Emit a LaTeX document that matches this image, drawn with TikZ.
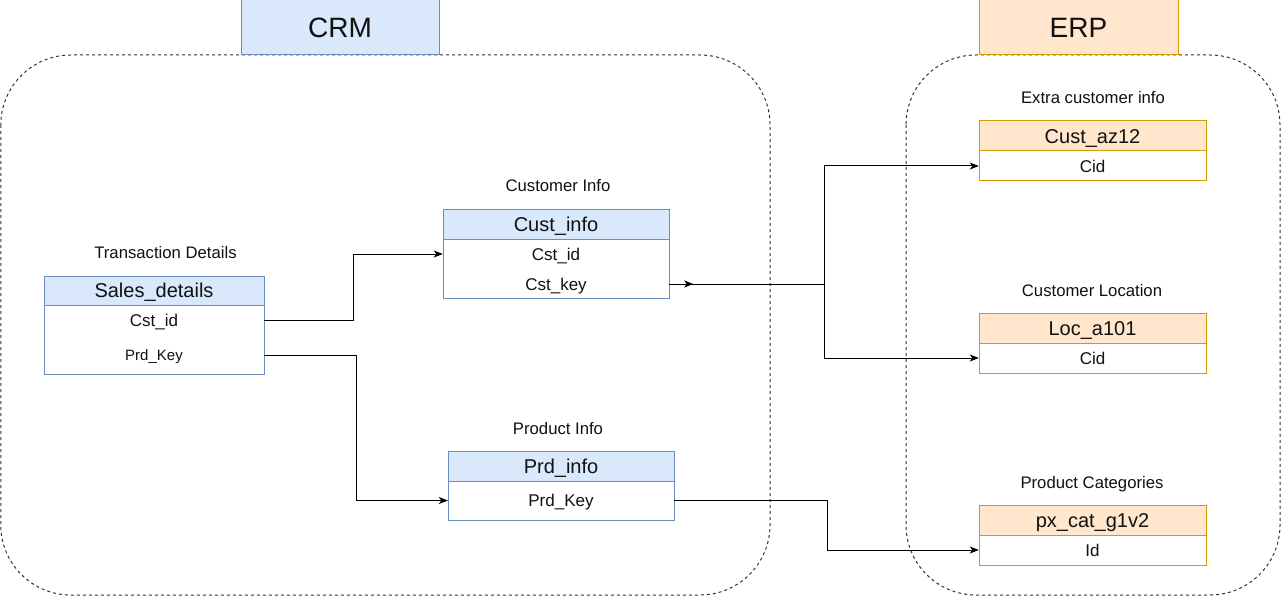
\documentclass[tikz,border=0pt]{standalone}
\usepackage{fontspec}
\setmainfont{Liberation Sans}
\usetikzlibrary{arrows.meta}
\definecolor{bluefill}{HTML}{DAE8FC}
\definecolor{blueline}{HTML}{6C8EBF}
\definecolor{orfill}{HTML}{FFE6CC}
\definecolor{orline}{HTML}{D79B00}
\definecolor{dashcol}{HTML}{333333}
\definecolor{txt}{HTML}{111111}
\newcommand{\fs}[1]{\fontsize{#1}{#1}\selectfont}
\begin{document}
\begin{tikzpicture}[x=1pt,y=-1pt,
  capfix/.style={text height=#1,text depth=0pt},
  container/.style={draw=dashcol,line width=1pt,dash pattern=on 3pt off 3pt,rounded corners=70pt},
  crmtitle/.style={draw=blueline,fill=bluefill,line width=1pt,minimum width=198pt,minimum height=55pt,inner sep=0pt,font=\fs{28},text=txt,capfix=20pt},
  erptitle/.style={draw=orline,fill=orfill,line width=1pt,minimum width=199pt,minimum height=55pt,inner sep=0pt,font=\fs{28},text=txt,capfix=20pt},
  bhead/.style={draw=blueline,fill=bluefill,line width=1pt,inner sep=0pt,font=\fs{20},text=txt,capfix=14.3pt},
  bbody/.style={draw=blueline,fill=white,line width=1pt,inner sep=0pt},
  ohead/.style={draw=orline,fill=orfill,line width=1pt,inner sep=0pt,font=\fs{20},text=txt,capfix=14.3pt},
  obody/.style={draw=orline,fill=white,line width=1pt,inner sep=0pt},
  field/.style={inner sep=0pt,font=\fs{17},text=txt,capfix=12.2pt},
  smallfield/.style={inner sep=0pt,font=\fs{15},text=txt,capfix=10.7pt},
  caption/.style={inner sep=0pt,font=\fs{16.7},text=txt,capfix=12pt},
  conn/.style={draw=black,line width=1pt},
  arr/.style={conn,-{Stealth[length=9pt,width=7pt,inset=2.5pt]}}
]
\useasboundingbox (0,0) rectangle (1281,596);
\fill[white] (0,0) rectangle (1281,596);

% containers
\draw[container] (0.8,55) rectangle (770,595);
\draw[container] (906,55) rectangle (1280,595);

% titles
\node[crmtitle] (crm) at (340,27.5) {CRM};
\node[erptitle] (erp) at (1078.5,27.5) {ERP};

% Sales_details
\node[caption] (capsd) at (165.5,252) {Transaction Details};
\node[bbody,minimum width=220pt,minimum height=69pt] (sdbody) at (154,339.5) {};
\node[bhead,minimum width=220pt,minimum height=29pt] (sdhead) at (154,290.5) {Sales\_details};
\node[field,minimum width=220pt] (sdcst) at (154,320) {Cst\_id};
\node[smallfield,minimum width=220pt] (sdprd) at (154,355) {Prd\_Key};

% Cust_info
\node[caption] (capci) at (558,186) {Customer Info};
\node[bbody,minimum width=226pt,minimum height=59pt] (cibody) at (556,268.5) {};
\node[bhead,minimum width=226pt,minimum height=30pt] (cihead) at (556,224) {Cust\_info};
\node[field,minimum width=226pt] (cicst) at (556,254) {Cst\_id};
\node[field,minimum width=226pt] (cikey) at (556,284) {Cst\_key};

% Prd_info
\node[caption] (cappi) at (558,428) {Product Info};
\node[bbody,minimum width=226pt,minimum height=39pt] (pibody) at (561,500.5) {};
\node[bhead,minimum width=226pt,minimum height=30pt] (pihead) at (561,466) {Prd\_info};
\node[field,minimum width=226pt] (piprd) at (561,500.5) {Prd\_Key};

% Cust_az12
\node[caption] (capaz) at (1093,98) {Extra customer info};
\node[obody,minimum width=227pt,minimum height=30pt] (azbody) at (1092.5,166) {};
\node[ohead,minimum width=227pt,minimum height=30pt] (azhead) at (1092.5,136) {Cust\_az12};
\node[field,minimum width=227pt] (azcid) at (1092.5,166) {Cid};

% Loc_a101
\node[caption] (caploc) at (1092,290) {Customer Location};
\node[obody,minimum width=227pt,minimum height=30pt] (locbody) at (1092.5,358) {};
\node[ohead,minimum width=227pt,minimum height=30pt] (lochead) at (1092.5,328) {Loc\_a101};
\node[field,minimum width=227pt] (loccid) at (1092.5,358) {Cid};

% px_cat_g1v2
\node[caption] (cappx) at (1092,482) {Product Categories};
\node[obody,minimum width=227pt,minimum height=30pt] (pxbody) at (1092.5,550) {};
\node[ohead,minimum width=227pt,minimum height=30pt] (pxhead) at (1092.5,520) {px\_cat\_g1v2};
\node[field,minimum width=227pt] (pxid) at (1092.5,550) {Id};

% connectors
\draw[arr] (sdcst.east) -- ++(89,0) |- (cicst.west);
\draw[arr] (sdprd.east) -- ++(92,0) |- (piprd.west);
\draw[conn] (cikey.east) -- ++(155,0) coordinate (junc);
\draw[arr] (cikey.east) -- ++(24,0);
\draw[arr] (junc) |- (azcid.west);
\draw[arr] (junc) |- (loccid.west);
\draw[arr] (piprd.east) -- ++(153,0) |- (pxid.west);
\end{tikzpicture}
\end{document}
